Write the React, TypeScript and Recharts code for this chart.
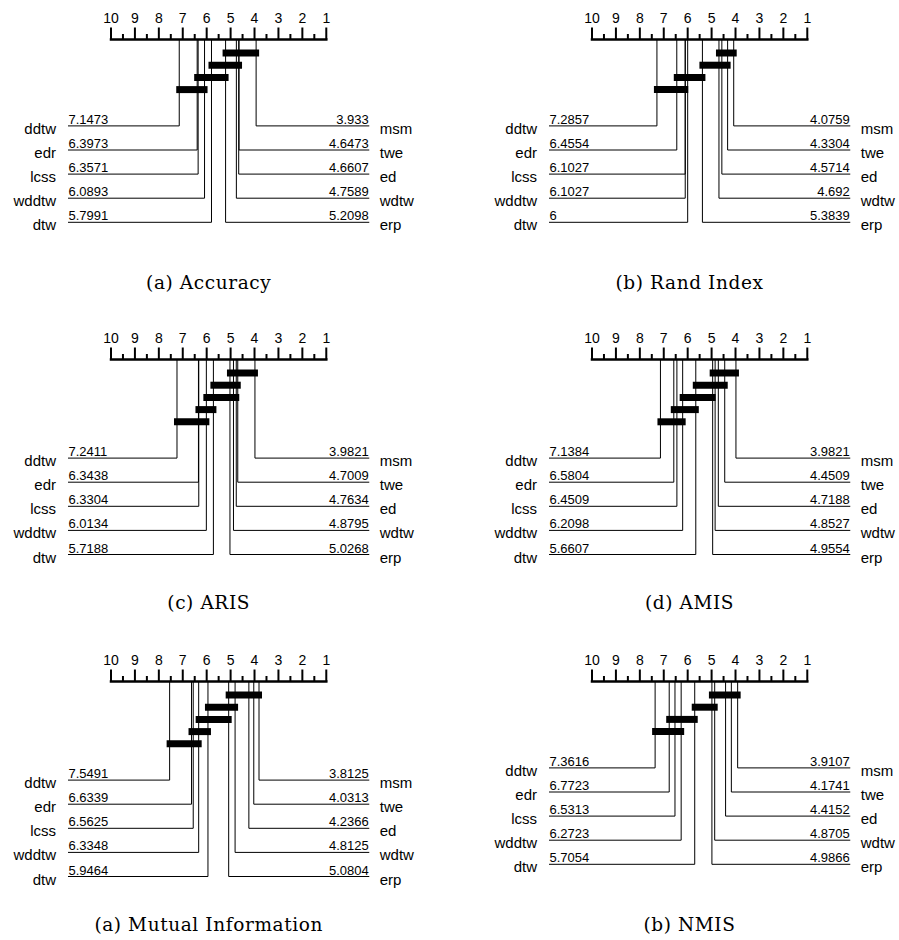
import React from 'react';
import { ComposedChart, Line, Scatter, XAxis, YAxis } from 'recharts';

// ---------- data ----------
const LEFT_METHODS = ['ddtw', 'edr', 'lcss', 'wddtw', 'dtw'];
const RIGHT_METHODS = ['msm', 'twe', 'ed', 'wdtw', 'erp'];
const RANK_TICKS = [10, 9, 8, 7, 6, 5, 4, 3, 2, 1];
const HALF_TICKS = [9.5, 8.5, 7.5, 6.5, 5.5, 4.5, 3.5, 2.5, 1.5];

const accuracyLeft = [7.1473, 6.3973, 6.3571, 6.0893, 5.7991];
const accuracyRight = [3.933, 4.6473, 4.6607, 4.7589, 5.2098];
const accuracyCliques = [['msm', 'erp'], ['twe', 'dtw'], ['erp', 'edr'], ['wddtw', 'ddtw']];

const randLeft = [7.2857, 6.4554, 6.1027, 6.1027, 6];
const randRight = [4.0759, 4.3304, 4.5714, 4.692, 5.3839];
const randCliques = [['msm', 'wdtw'], ['twe', 'erp'], ['erp', 'edr'], ['lcss', 'ddtw']];

const arisLeft = [7.2411, 6.3438, 6.3304, 6.0134, 5.7188];
const arisRight = [3.9821, 4.7009, 4.7634, 4.8795, 5.0268];
const arisCliques = [['msm', 'erp'], ['twe', 'dtw'], ['ed', 'wddtw'], ['dtw', 'edr'], ['wddtw', 'ddtw']];

const amisLeft = [7.1384, 6.5804, 6.4509, 6.2098, 5.6607];
const amisRight = [3.9821, 4.4509, 4.7188, 4.8527, 4.9554];
const amisCliques = [['msm', 'erp'], ['twe', 'dtw'], ['erp', 'wddtw'], ['dtw', 'edr'], ['wddtw', 'ddtw']];

const miLeft = [7.5491, 6.6339, 6.5625, 6.3348, 5.9464];
const miRight = [3.8125, 4.0313, 4.2366, 4.8125, 5.0804];
const miCliques = [['msm', 'erp'], ['wdtw', 'dtw'], ['erp', 'wddtw'], ['dtw', 'edr'], ['wddtw', 'ddtw']];

const nmisLeft = [7.3616, 6.7723, 6.5313, 6.2723, 5.7054];
const nmisRight = [3.9107, 4.1741, 4.4152, 4.8705, 4.9866];
const nmisCliques = [['msm', 'erp'], ['wdtw', 'dtw'], ['dtw', 'edr'], ['wddtw', 'ddtw']];

const CAPTIONS = ['(a) Accuracy', '(b) Rand Index', '(c) ARIS', '(d) AMIS', '(a) Mutual Information', '(b) NMIS'];

// ---------- layout ----------
const PX_PER_RANK = 23.92;
const AXIS_Y = 39.5;
const BAR_FIRST = 13.5;
const BAR_STEP = 12.2;
const ROW_GAP = 36.3;
const ROW_STEP = 24.1;
const EDGE_PX = 43;
const CLIQUE_EXT_PX = 3;
const SANS = '"Liberation Sans", Arial, Helvetica, sans-serif';
const SERIF = '"DejaVu Serif", "Liberation Serif", serif';

type PanelDef = {
  left: number[];
  right: number[];
  cliques: string[][];
  caption: string;
  x: number;
  y: number;
  w: number;
  h: number;
  axisPx: number;
  captionX: number;
};

const TickShape = (props: any) => {
  const { cx, cy, payload } = props;
  const len = payload.major ? 12 : 5.5;
  return (
    <g>
      <line x1={cx} y1={cy} x2={cx} y2={cy - len} stroke="#000" strokeWidth={2} />
      {payload.major && (
        <text x={cx} y={cy - 16.2} textAnchor="middle" fontSize={14} fontFamily={SANS} fill="#000">
          {payload.label}
        </text>
      )}
    </g>
  );
};

const NameShape = (props: any) => {
  const { cx, cy, payload } = props;
  if (payload.side === 'left') {
    return (
      <g fontFamily={SANS} fill="#000">
        <text x={cx - 12} y={cy + 8} textAnchor="end" fontSize={15}>{payload.name}</text>
        <text x={cx + 0.5} y={cy - 2} textAnchor="start" fontSize={13}>{payload.value}</text>
      </g>
    );
  }
  return (
    <g fontFamily={SANS} fill="#000">
      <text x={cx + 10.5} y={cy + 8} textAnchor="start" fontSize={15}>{payload.name}</text>
      <text x={cx - 0.5} y={cy - 2} textAnchor="end" fontSize={13}>{payload.value}</text>
    </g>
  );
};

function Panel({ p }: { p: PanelDef }) {
  const rLeft = 10 + p.axisPx / PX_PER_RANK;
  const rRight = 10 - (p.w - p.axisPx) / PX_PER_RANK;
  const leftEdge = 10 + EDGE_PX / PX_PER_RANK;
  const rightEdge = 1 - EDGE_PX / PX_PER_RANK;
  const ext = CLIQUE_EXT_PX / PX_PER_RANK;
  const nBars = p.cliques.length;
  const lastBar = AXIS_Y + BAR_FIRST + BAR_STEP * (nBars - 1);
  const firstRow = lastBar + ROW_GAP;

  const rankOf: Record<string, number> = {};
  LEFT_METHODS.forEach((m, i) => (rankOf[m] = p.left[i]));
  RIGHT_METHODS.forEach((m, i) => (rankOf[m] = p.right[i]));

  const ticks = [
    ...RANK_TICKS.map((t) => ({ x: t, y: AXIS_Y, major: true, label: String(t) })),
    ...HALF_TICKS.map((t) => ({ x: t, y: AXIS_Y, major: false, label: '' })),
  ];

  const labels = [
    ...LEFT_METHODS.map((m, i) => ({ x: leftEdge, y: firstRow + ROW_STEP * i, side: 'left', name: m, value: String(p.left[i]) })),
    ...RIGHT_METHODS.map((m, i) => ({ x: rightEdge, y: firstRow + ROW_STEP * i, side: 'right', name: m, value: String(p.right[i]) })),
  ];

  const connectors = [
    ...LEFT_METHODS.map((m, i) => [
      { x: p.left[i], y: AXIS_Y },
      { x: p.left[i], y: firstRow + ROW_STEP * i },
      { x: leftEdge, y: firstRow + ROW_STEP * i },
    ]),
    ...RIGHT_METHODS.map((m, i) => [
      { x: p.right[i], y: AXIS_Y },
      { x: p.right[i], y: firstRow + ROW_STEP * i },
      { x: rightEdge, y: firstRow + ROW_STEP * i },
    ]),
  ];

  const bars = p.cliques.map(([best, worst], i) => [
    { x: rankOf[worst] + ext, y: AXIS_Y + BAR_FIRST + BAR_STEP * i },
    { x: rankOf[best] - ext, y: AXIS_Y + BAR_FIRST + BAR_STEP * i },
  ]);

  return (
    <div style={{ position: 'absolute', left: p.x, top: p.y, width: p.w, height: p.h }}>
      <ComposedChart width={p.w} height={p.h} margin={{ top: 0, right: 0, bottom: 0, left: 0 }}>
        <XAxis type="number" dataKey="x" domain={[rRight, rLeft]} reversed hide allowDataOverflow />
        <YAxis type="number" dataKey="y" domain={[0, p.h]} reversed hide allowDataOverflow />
        {connectors.map((d, i) => (
          <Line key={'c' + i} data={d} dataKey="y" type="linear" stroke="#000" strokeWidth={1}
            dot={false} activeDot={false} isAnimationActive={false} legendType="none" />
        ))}
        <Line data={[{ x: 10, y: AXIS_Y }, { x: 1, y: AXIS_Y }]} dataKey="y" type="linear" stroke="#000"
          strokeWidth={2.5} strokeLinecap="square" dot={false} activeDot={false} isAnimationActive={false} legendType="none" />
        {bars.map((d, i) => (
          <Line key={'b' + i} data={d} dataKey="y" type="linear" stroke="#000" strokeWidth={7}
            dot={false} activeDot={false} isAnimationActive={false} legendType="none" />
        ))}
        <Scatter data={ticks} shape={TickShape} isAnimationActive={false} legendType="none" />
        <Scatter data={labels} shape={NameShape} isAnimationActive={false} legendType="none" />
      </ComposedChart>
      <div
        style={{
          position: 'absolute',
          left: p.captionX - 200,
          width: 400,
          top: 271,
          textAlign: 'center',
          fontFamily: SERIF,
          fontSize: 18.5,
          letterSpacing: 0.6,
          lineHeight: '24px',
          color: '#000',
          whiteSpace: 'nowrap',
        }}
      >
        {p.caption}
      </div>
    </div>
  );
}

const ROW_TOPS = [0, 320, 642];
const ROW_HEIGHTS = [320, 322, 298];

const PANEL_DATA = [
  { left: accuracyLeft, right: accuracyRight, cliques: accuracyCliques },
  { left: randLeft, right: randRight, cliques: randCliques },
  { left: arisLeft, right: arisRight, cliques: arisCliques },
  { left: amisLeft, right: amisRight, cliques: amisCliques },
  { left: miLeft, right: miRight, cliques: miCliques },
  { left: nmisLeft, right: nmisRight, cliques: nmisCliques },
];

export default function App() {
  const panels: PanelDef[] = PANEL_DATA.map((d, i) => {
    const col = i % 2;
    const row = Math.floor(i / 2);
    return {
      ...d,
      caption: CAPTIONS[i],
      x: col === 0 ? 0 : 449,
      y: ROW_TOPS[row],
      w: col === 0 ? 449 : 450,
      h: ROW_HEIGHTS[row],
      axisPx: col === 0 ? 111 : 143,
      captionX: col === 0 ? 208.7 : 240.5,
    };
  });
  return (
    <div style={{ position: 'absolute', left: 0, top: 0, width: 899, height: 940, background: '#fff', overflow: 'hidden' }}>
      {panels.map((p, i) => (
        <Panel key={i} p={p} />
      ))}
    </div>
  );
}
